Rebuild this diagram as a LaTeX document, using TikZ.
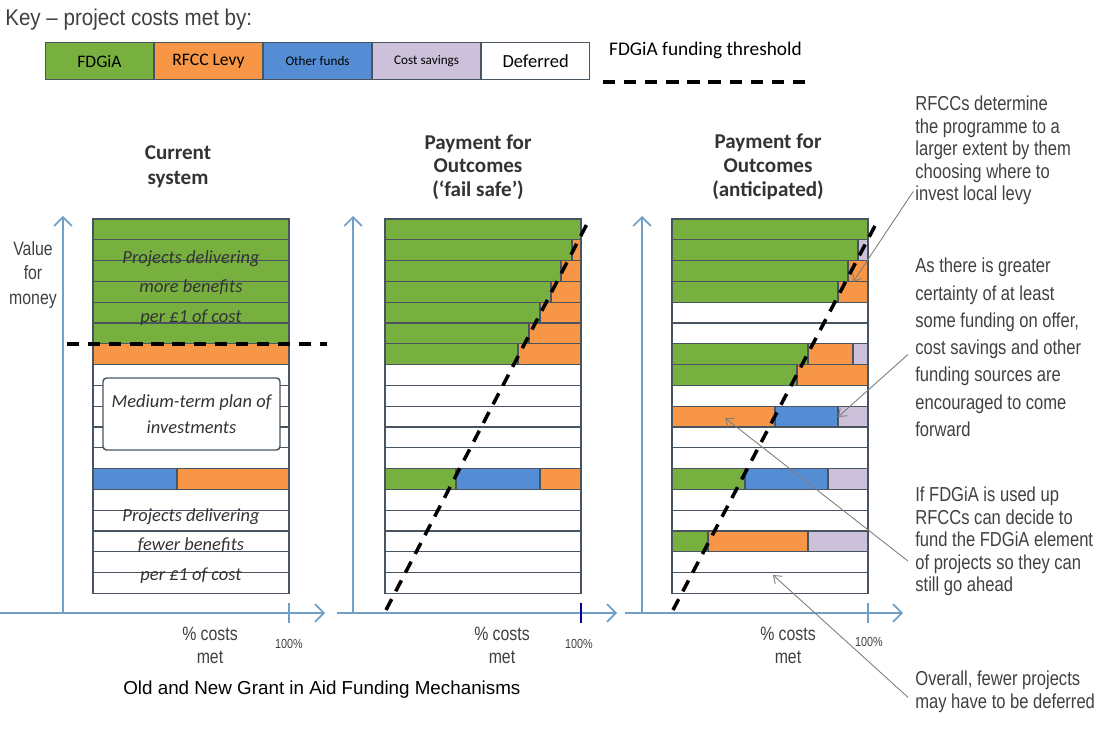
\documentclass[tikz,border=0pt]{standalone}
\usepackage{fontspec}
\setmainfont{Carlito}
\newfontfamily\narrowfont[FakeStretch=0.82]{Liberation Sans}
\newfontfamily\keyfont[FakeStretch=0.9]{Liberation Sans}
\newfontfamily\arialfont{Liberation Sans}
\usetikzlibrary{arrows.meta,positioning}

\definecolor{fdgia}{RGB}{120,176,64}
\definecolor{levy}{RGB}{247,150,70}
\definecolor{other}{RGB}{84,141,212}
\definecolor{saving}{RGB}{204,192,218}
\definecolor{rowline}{RGB}{72,84,96}
\definecolor{axisblue}{RGB}{112,160,200}
\definecolor{leadgray}{RGB}{125,125,125}

\tikzset{
  row/.style={draw=rowline, line width=0.6pt},
  keybox/.style={draw=rowline, line width=0.6pt, minimum width=2.16cm, minimum height=0.74cm, inner sep=0pt},
  axis/.style={draw=axisblue, line width=1pt, -{Straight Barb[length=5pt,width=10pt]}},
  threshold/.style={line width=2pt, dash pattern=on 7pt off 5pt},
  leader/.style={draw=leadgray, line width=0.5pt, -{Straight Barb[length=4pt,width=6pt]}},
  title/.style={font=\bfseries\fontsize{12}{13.5}\selectfont, align=center, text=black!80},
  note/.style={font=\narrowfont\fontsize{11.5}{12.8}\selectfont, align=left, anchor=north west, inner sep=0pt, text=black!75},
  inrow/.style={font=\itshape\fontsize{10.5}{17}\selectfont, align=center, text=black!80},
  costlbl/.style={font=\narrowfont\fontsize{11}{13}\selectfont, align=center, text=black!75},
  pct/.style={font=\narrowfont\fontsize{7.5}{8}\selectfont, text=black!75}
}

\begin{document}
\begin{tikzpicture}[x=0.02cm, y=-0.02cm]
  \useasboundingbox (0,0) rectangle (1106,729);

  % key
  \node[font=\keyfont\fontsize{13}{14}\selectfont, text=black!75, anchor=west, inner sep=0pt] (keytitle) at (5,20) {Key – project costs met by:};
  \node[keybox, fill=fdgia, anchor=north west, font=\fontsize{10}{12}\selectfont] (kfdgia) at (45,42) {FDGiA};
  \node[keybox, fill=levy, right=0pt of kfdgia, font=\fontsize{10}{12}\selectfont] (klevy) {RFCC Levy};
  \node[keybox, fill=other, right=0pt of klevy, font=\fontsize{7.5}{9}\selectfont] (kother) {Other funds};
  \node[keybox, fill=saving, right=0pt of kother, font=\fontsize{7.5}{9}\selectfont] (ksaving) {Cost savings};
  \node[keybox, fill=white, right=0pt of ksaving, font=\fontsize{10.5}{12}\selectfont] (kdeferred) {Deferred};
  \node[font=\fontsize{11}{13}\selectfont, anchor=west] (kthr) at (603,50) {FDGiA funding threshold};
  \draw[threshold] ([yshift=-10pt]kthr.south west) -- ([yshift=-10pt]kthr.south east);

  % current system
  \begin{scope}[shift={(93,0)}]
    \foreach \n in {1,...,18}
      \draw[row] (0,{219+(\n-1)*20.8}) rectangle (196,{219+\n*20.8});
    \foreach \n/\a/\b/\col in {1/0/196/fdgia,2/0/196/fdgia,3/0/196/fdgia,4/0/196/fdgia,5/0/196/fdgia,6/0/196/fdgia,
                               7/0/196/levy,13/0/84/other,13/84/196/levy}
      \filldraw[row, fill=\col] (\a,{219+(\n-1)*20.8}) rectangle (\b,{219+\n*20.8});
    \node[inrow] (more) at (98,288) {Projects delivering\\more benefits\\per £1 of cost};
    \node[draw=rowline, line width=0.8pt, fill=white, rounded corners=2pt, minimum width=3.54cm, minimum height=1.44cm,
          font=\itshape\fontsize{10.5}{15}\selectfont, text=black!80, align=center] (plan) at (98.5,414) {Medium-term plan of\\investments};
    \node[inrow] (fewer) at (98,546) {Projects delivering\\fewer benefits\\per £1 of cost};
    \draw[threshold] (-26,344) -- (234,344);
    \draw[axis] (-30,613) -- (-30,216);
    \draw[axis] (-93,613) -- (232,613);
    \draw[axisblue, line width=0.8pt] (196,603) -- (196,623);
    \node[title, font=\bfseries\fontsize{12}{14.5}\selectfont] (curtitle) at (85,167) {Current\\system};
    \node[costlbl, font=\narrowfont\fontsize{11}{14}\selectfont] (vfm) at (-60,275) {Value\\for\\money};
    \node[costlbl] (cost1) at (117,645) {\% costs\\met};
    \node[pct] (pct1) at (196,644) {100\%};
  \end{scope}

  % payment for outcomes, fail safe
  \begin{scope}[shift={(385,0)}]
    \foreach \n in {1,...,18}
      \draw[row] (0,{219+(\n-1)*20.8}) rectangle (196,{219+\n*20.8});
    \foreach \n/\a/\b/\col in {1/0/196/fdgia,2/0/187/fdgia,2/187/196/levy,3/0/176/fdgia,3/176/196/levy,
                               4/0/166/fdgia,4/166/196/levy,5/0/155/fdgia,5/155/196/levy,6/0/144/fdgia,6/144/196/levy,
                               7/0/133/fdgia,7/133/196/levy,13/0/71/fdgia,13/71/155/other,13/155/196/levy}
      \filldraw[row, fill=\col] (\a,{219+(\n-1)*20.8}) rectangle (\b,{219+\n*20.8});
    \draw[threshold] (1,610) -- (203,222);
    \draw[axis] (-32,613) -- (-32,216);
    \draw[axis] (-48,613) -- (232,613);
    \draw[blue!60!black, line width=0.8pt] (196,603) -- (196,623);
    \node[title] (failtitle) at (93,167) {Payment for\\Outcomes\\(‘fail safe’)};
    \node[costlbl] (cost2) at (117,645) {\% costs\\met};
    \node[pct] (pct2) at (194,644) {100\%};
  \end{scope}

  % payment for outcomes, anticipated
  \begin{scope}[shift={(672,0)}]
    \foreach \n in {1,...,18}
      \draw[row] (0,{219+(\n-1)*20.8}) rectangle (196,{219+\n*20.8});
    \foreach \n/\a/\b/\col in {1/0/196/fdgia,2/0/186/fdgia,2/186/196/saving,3/0/176/fdgia,3/176/196/levy,
                               4/0/166/fdgia,4/166/196/levy,7/0/136/fdgia,7/136/181/levy,7/181/196/saving,
                               8/0/125/fdgia,8/125/196/levy,10/0/103/levy,10/103/166/other,10/166/196/saving,
                               13/0/73/fdgia,13/73/156/other,13/156/196/saving,16/0/36/fdgia,16/36/136/levy,16/136/196/saving}
      \filldraw[row, fill=\col] (\a,{219+(\n-1)*20.8}) rectangle (\b,{219+\n*20.8});
    \draw[threshold] (1,610) -- (205,222);
    \draw[axis] (-30,613) -- (-30,216);
    \draw[axis] (-47,613) -- (231,613);
    \draw[axisblue, line width=0.8pt] (196,603) -- (196,623);
    \node[title] (anttitle) at (96,167) {Payment for\\Outcomes\\(anticipated)};
    \node[costlbl] (cost3) at (116,645) {\% costs\\met};
    \node[pct] (pct3) at (197,642) {100\%};
  \end{scope}

  % notes
  \node[note] (note1) at (915,96) {RFCCs determine\\the programme to a\\larger extent by them\\choosing where to\\invest local levy};
  \node[note, font=\narrowfont\fontsize{11.5}{15.5}\selectfont] (note2) at (915,258) {As there is greater\\certainty of at least\\some funding on offer,\\cost savings and other\\funding sources are\\encouraged to come\\forward};
  \node[note] (note3) at (915,487) {If FDGiA is used up\\RFCCs can decide to\\fund the FDGiA element\\of projects so they can\\still go ahead};
  \node[note] (note4) at (915,671) {Overall, fewer projects\\may have to be deferred};

  \coordinate (levyrow) at (853,282);
  \coordinate (otherrow) at (838,417);
  \coordinate (fundrow) at (725,418);
  \coordinate (deferrow) at (773,575);
  \draw[leader] ([xshift=-1pt,yshift=8pt]note1.south west) -- (levyrow);
  \draw[leader] ([xshift=-4pt,yshift=-4pt]note2.west) -- (otherrow);
  \draw[leader] ([xshift=-4pt,yshift=-11pt]note3.west) -- (fundrow);
  \draw[leader] ([xshift=-4pt,yshift=-3pt]note4.west) -- (deferrow);

  \node[font=\arialfont\fontsize{10.7}{13}\selectfont, anchor=west, inner sep=0pt] (caption) at (123,690) {Old and New Grant in Aid Funding Mechanisms};
\end{tikzpicture}
\end{document}
